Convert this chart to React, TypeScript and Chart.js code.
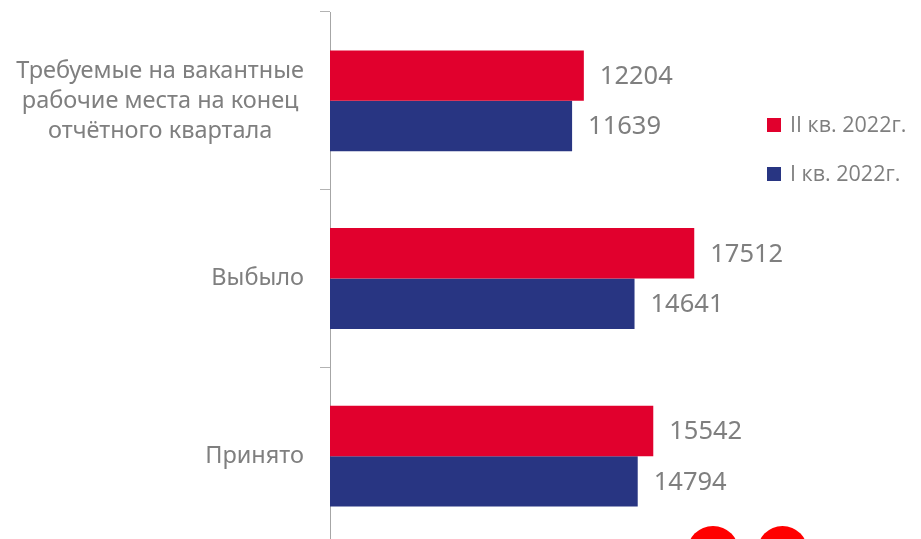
import React, { useEffect, useRef } from "react";
import { Chart, registerables } from "chart.js";

Chart.register(...registerables);

// ---- data ----
const categories: string[][] = [
  ["Требуемые на вакантные", "рабочие места на конец", "отчётного квартала"],
  ["Выбыло"],
  ["Принято"],
];
const seriesNames: string[] = ["II кв. 2022г.", "I кв. 2022г."];
const q2Values: number[] = [12204, 17512, 15542];
const q1Values: number[] = [11639, 14641, 14794];
const seriesColors: string[] = ["#E1002D", "#283582"];
const xMax = 20000;

const FAMILY = "'Noto Sans', sans-serif";
const LEGEND_FAMILY = "'Open Sans', sans-serif";
const GRAY = "#7F7F7F";

const categoryLabelPlugin = {
  id: "categoryLabels",
  afterDraw(chart: any) {
    const scale = chart.scales.y;
    const ctx = chart.ctx;
    ctx.save();
    ctx.font = "23.5px " + FAMILY;
    ctx.fillStyle = GRAY;
    ctx.textAlign = "center";
    ctx.textBaseline = "middle";
    const lineH = 30;
    const rightEdge = scale.right - 10 - 16;
    categories.forEach((lines, i) => {
      const y = scale.getPixelForTick(i);
      const widest = Math.max(...lines.map((l) => ctx.measureText(l).width));
      const cx = rightEdge - widest / 2;
      lines.forEach((l, j) => {
        ctx.fillText(l, cx, y + (j - (lines.length - 1) / 2) * lineH);
      });
    });
    ctx.restore();
  },
};

const valueLabelPlugin = {
  id: "valueLabels",
  afterDatasetsDraw(chart: any) {
    const ctx = chart.ctx;
    ctx.save();
    ctx.font = "25.5px " + FAMILY;
    ctx.fillStyle = GRAY;
    ctx.textAlign = "left";
    ctx.textBaseline = "middle";
    chart.data.datasets.forEach((ds: any, di: number) => {
      const meta = chart.getDatasetMeta(di);
      meta.data.forEach((bar: any, i: number) => {
        ctx.fillText(String(ds.data[i]), bar.x + 16, bar.y + 1);
      });
    });
    ctx.restore();
  },
};

const legendPlugin = {
  id: "sideLegend",
  afterDraw(chart: any) {
    const ctx = chart.ctx;
    const area = chart.chartArea;
    const x0 = area.right + 21;
    const yStart = 125;
    const step = 49;
    const box = 14;
    ctx.save();
    ctx.font = "21.5px " + LEGEND_FAMILY;
    ctx.textAlign = "left";
    ctx.textBaseline = "middle";
    chart.data.datasets.forEach((ds: any, i: number) => {
      const y = yStart + i * step;
      ctx.fillStyle = ds.backgroundColor;
      ctx.fillRect(x0, y - box / 2, box, box);
      ctx.fillStyle = GRAY;
      ctx.fillText(ds.label, x0 + box + 9, y + 1);
    });
    ctx.restore();
  },
};

export default function App() {
  const canvasRef = useRef<HTMLCanvasElement | null>(null);

  useEffect(() => {
    if (!canvasRef.current) return;
    const chart = new Chart(canvasRef.current, {
      type: "bar",
      data: {
        labels: categories.map((l) => l.join(" ")),
        datasets: [
          {
            label: seriesNames[0],
            data: q2Values,
            backgroundColor: seriesColors[0],
            borderWidth: 0,
            barPercentage: 1,
            categoryPercentage: 0.568,
          },
          {
            label: seriesNames[1],
            data: q1Values,
            backgroundColor: seriesColors[1],
            borderWidth: 0,
            barPercentage: 1,
            categoryPercentage: 0.568,
          },
        ],
      },
      options: {
        indexAxis: "y",
        responsive: false,
        animation: false,
        devicePixelRatio: 1,
        layout: { padding: { top: 12, right: 175, bottom: 15, left: 0 } },
        plugins: {
          legend: { display: false },
          tooltip: { enabled: false },
        },
        scales: {
          x: { display: false, min: 0, max: xMax },
          y: {
            type: "category",
            grid: {
              display: true,
              drawOnChartArea: false,
              drawTicks: true,
              tickLength: 10,
              color: "#B3B3B3",
              offset: true,
            },
            border: { display: true, color: "#A6A6A6", width: 1 },
            ticks: { display: false },
            afterFit: (s: any) => {
              s.width = 330;
            },
          },
        },
      } as any,
      plugins: [categoryLabelPlugin, valueLabelPlugin, legendPlugin],
    });
    return () => chart.destroy();
  }, []);

  return (
    <div
      style={{
        position: "fixed",
        left: 0,
        top: 0,
        width: 921,
        height: 539,
        overflow: "hidden",
        background: "#ffffff",
        fontFamily: "'Noto Sans', sans-serif",
      }}
    >
      <canvas
        ref={canvasRef}
        width={921}
        height={560}
        style={{ position: "absolute", left: 0, top: 0, width: 921, height: 560 }}
      />
      <div
        style={{
          position: "absolute",
          left: 687,
          top: 526,
          width: 52,
          height: 52,
          borderRadius: "50%",
          background: "#FF0000",
        }}
      />
      <div
        style={{
          position: "absolute",
          left: 757,
          top: 526,
          width: 51,
          height: 52,
          borderRadius: "50%",
          background: "#FF0000",
        }}
      />
    </div>
  );
}
